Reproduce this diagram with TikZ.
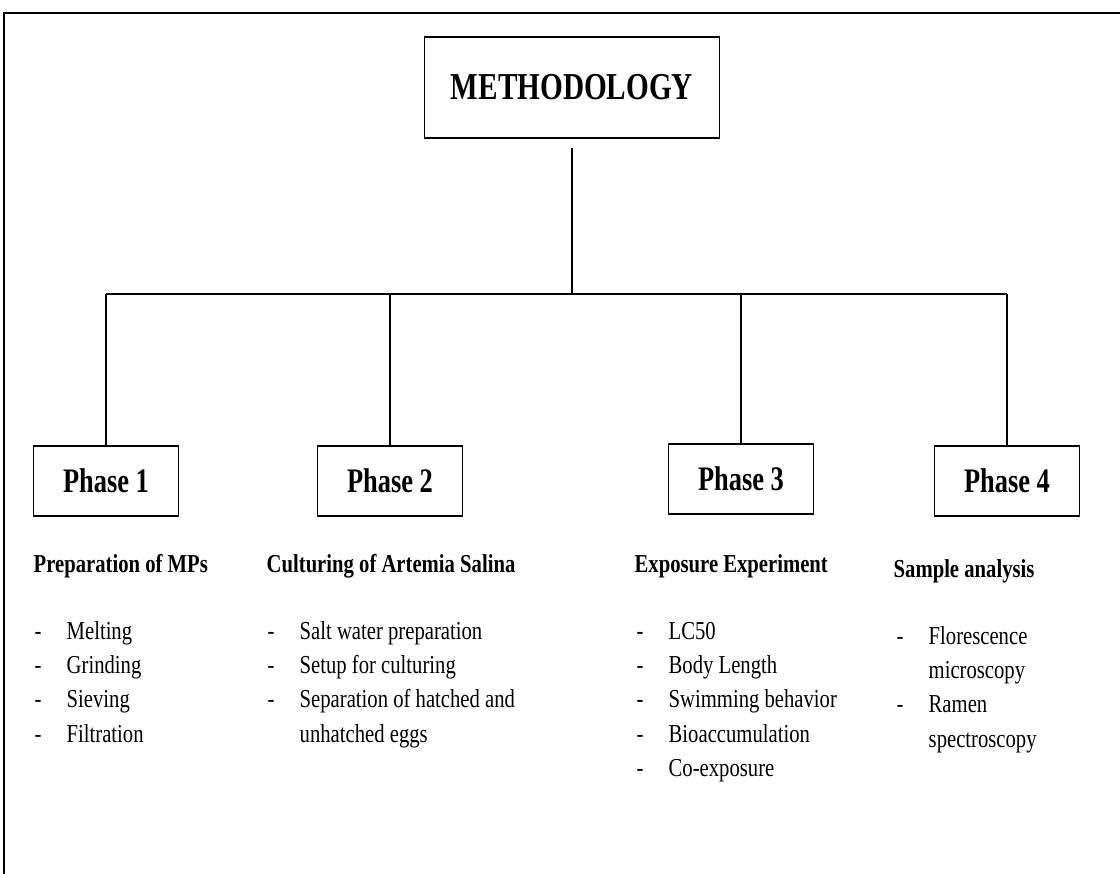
\documentclass[tikz,border=0pt]{standalone}
\usepackage{fontspec}
\setmainfont{Liberation Serif}
\usepackage{graphicx}
\newcommand{\vs}[2][1.25]{\scalebox{1}[#1]{#2}}
\newcommand{\itm}[1]{\makebox[0.8cm][l]{-}#1}
\newcommand{\cnt}[1]{\hspace*{0.8cm}#1}
\newcommand{\lst}[1]{\vs{\fontsize{14.7}{19.6}\selectfont\begin{tabular}[t]{@{}l@{}}#1\end{tabular}}}
\tikzset{
  box/.style={draw, line width=1pt, inner sep=0pt},
  phase/.style={box, minimum width=3.625cm, minimum height=1.75cm, font=\fontsize{18.8}{22}\selectfont\bfseries},
  head/.style={anchor=base west, inner sep=0pt, font=\fontsize{14.7}{19.6}\selectfont\bfseries},
  items/.style={anchor=base west, inner sep=0pt},
}
\begin{document}
\begin{tikzpicture}[x=0.025cm, y=-0.025cm, line width=1pt]
    \useasboundingbox (0,0) rectangle (1120,874);
    \draw[line width=1.2pt] (1120,13) -- (4,13) -- (4,874);

    \node[box, minimum width=7.375cm, minimum height=2.525cm, font=\fontsize{20.8}{24}\selectfont\bfseries] (M) at (572,87.5) {\vs[1.3]{METHODOLOGY}};
    \coordinate (hub) at (572,294);

    \node[phase] (P1) at (106,481) {\vs[1.3]{Phase 1}};
    \node[phase] (P2) at (390,481) {\vs[1.3]{Phase 2}};
    \node[phase] (P3) at (741,479) {\vs[1.3]{Phase 3}};
    \node[phase] (P4) at (1007,481) {\vs[1.3]{Phase 4}};

    \draw ([yshift=-0.22cm]M.south) -- (hub);
    \draw (P1.north |- hub) -- (P4.north |- hub);
    \foreach \n in {1,...,4}
      \draw (P\n.north |- hub) -- (P\n.north);

    \node[head] (H1) at (33,572) {\vs{Preparation of MPs}};
    \node[head] (H2) at (266,572) {\vs{Culturing of Artemia Salina}};
    \node[head] (H3) at (634,572) {\vs{Exposure Experiment}};
    \node[head] (H4) at (893,577) {\vs{Sample analysis}};

    \node[items] (L1) at (34,639) {\lst{\itm{Melting}\\ \itm{Grinding}\\ \itm{Sieving}\\ \itm{Filtration}}};
    \node[items] (L2) at (267,639) {\lst{\itm{Salt water preparation}\\ \itm{Setup for culturing}\\ \itm{Separation of hatched and}\\ \cnt{unhatched eggs}}};
    \node[items] (L3) at (636,639) {\lst{\itm{LC50}\\ \itm{Body Length}\\ \itm{Swimming behavior}\\ \itm{Bioaccumulation}\\ \itm{Co-exposure}}};
    \node[items] (L4) at (896,644) {\lst{\itm{Florescence}\\ \cnt{microscopy}\\ \itm{Ramen}\\ \cnt{spectroscopy}}};
\end{tikzpicture}
\end{document}
